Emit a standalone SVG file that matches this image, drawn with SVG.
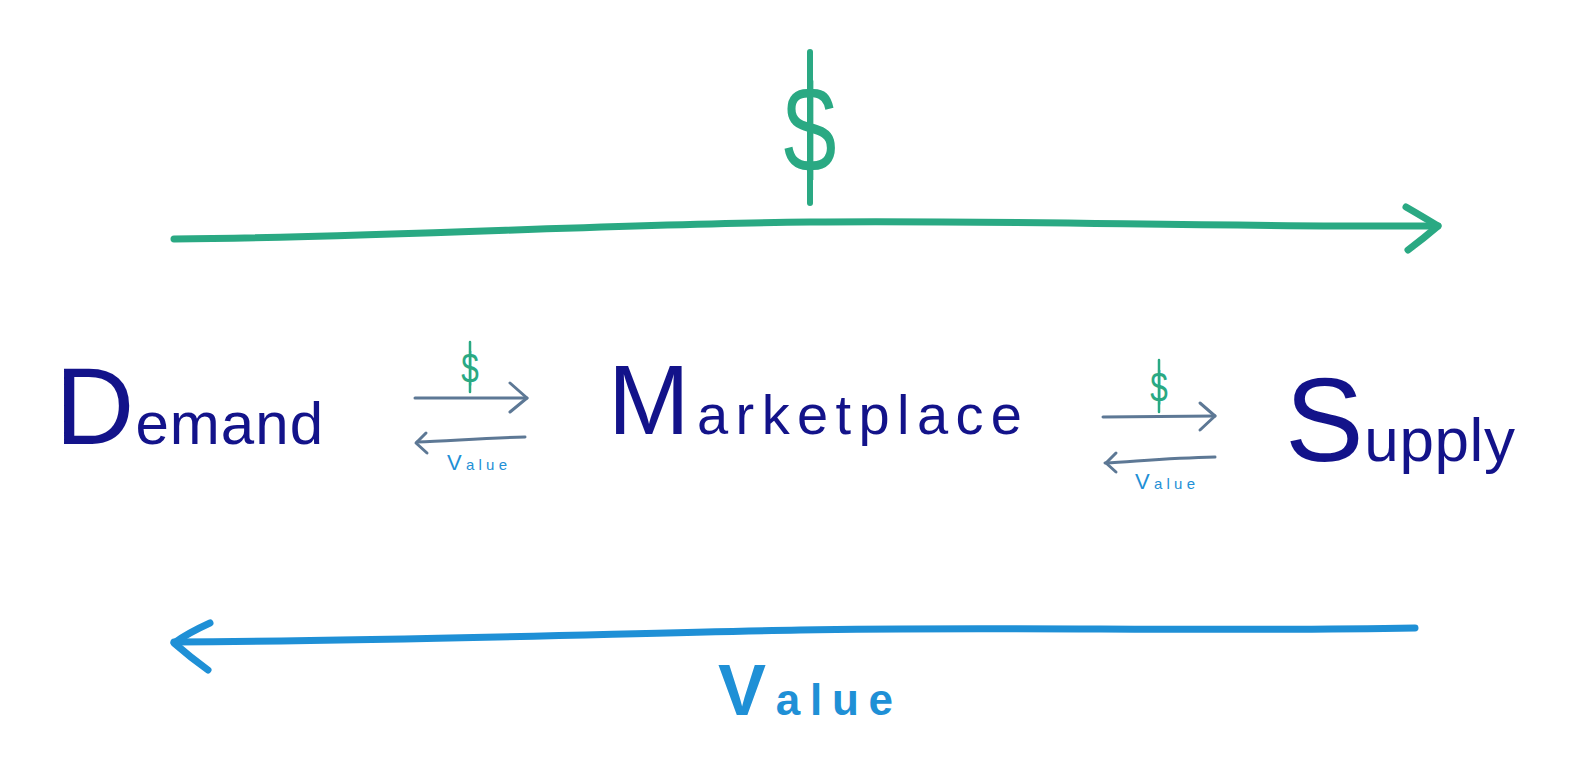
<svg xmlns="http://www.w3.org/2000/svg" width="1585" height="769" viewBox="0 0 1585 769">
<style>
.node{font-family:"Liberation Sans",Arial,sans-serif;fill:#13138a}
.green{stroke:#2aa983;fill:none;stroke-linecap:round;stroke-linejoin:round}
.blue{stroke:#1f90d6;fill:none;stroke-linecap:round;stroke-linejoin:round}
.small{stroke:#5d7895;fill:none;stroke-width:3;stroke-linecap:round;stroke-linejoin:round}
.gt{font-family:"Liberation Sans",Arial,sans-serif;fill:#2aa983}
.bt{font-family:"Liberation Sans",Arial,sans-serif;fill:#1f90d6}
</style>
<rect width="1585" height="769" fill="#ffffff"/>
<g id="connectors">
  <g id="money-flow">
    <path class="green" stroke-width="7" d="M174,239 C400,237 600,224 810,222 S1200,227 1438,226"/>
    <path class="green" stroke-width="7" d="M1406,207 Q1425,218 1438,226 Q1424,238 1408,250"/>
  </g>
  <g id="value-flow">
    <path class="blue" stroke-width="7" d="M1415,628 C1200,632 1000,626 800,630 S400,641 174,642"/>
    <path class="blue" stroke-width="7" d="M210,623 Q188,633 174,643 Q190,657 208,670"/>
  </g>
  <g id="demand-market">
    <path class="small" d="M415,398 L527,398"/>
    <path class="small" d="M510,383 L527,398 L510,412"/>
    <path class="small" d="M525,437 C480,438 450,441 417,442"/>
    <path class="small" d="M426,433 L416,443 L427,453"/>
  </g>
  <g id="market-supply">
    <path class="small" d="M1103,417 L1215,416"/>
    <path class="small" d="M1200,403 L1215,416 L1200,430"/>
    <path class="small" d="M1215,457 C1170,458 1140,461 1105,463"/>
    <path class="small" d="M1116,453 L1106,463 L1116,472"/>
  </g>
</g>
<g id="label-money-top">
  <line class="green" stroke-width="6" x1="810" y1="52" x2="810" y2="203"/>
  <text class="gt" font-size="122" text-anchor="middle" transform="translate(810,172) scale(0.78,1)">$</text>
</g>
<g id="label-money-left">
  <line class="green" stroke-width="2.5" x1="470" y1="342" x2="470" y2="392"/>
  <text class="gt" font-size="42" text-anchor="middle" transform="translate(470,383) scale(0.75,1)">$</text>
</g>
<g id="label-money-right">
  <line class="green" stroke-width="2.5" x1="1159" y1="360" x2="1159" y2="412"/>
  <text class="gt" font-size="42" text-anchor="middle" transform="translate(1159,402) scale(0.75,1)">$</text>
</g>
<g id="label-value-left">
  <text class="bt" x="447" y="470" textLength="60"><tspan font-size="22">V</tspan><tspan font-size="15">alue</tspan></text>
</g>
<g id="label-value-right">
  <text class="bt" x="1135" y="489" textLength="60"><tspan font-size="22">V</tspan><tspan font-size="15">alue</tspan></text>
</g>
<g id="label-value-bottom">
  <text class="bt" font-weight="bold" x="718" y="715" textLength="175"><tspan font-size="72">V</tspan><tspan font-size="44">alue</tspan></text>
</g>
<g id="demand">
  <text class="node" x="55" y="444" textLength="268"><tspan font-size="110">D</tspan><tspan font-size="60">emand</tspan></text>
</g>
<g id="marketplace">
  <text class="node" x="608" y="434" textLength="414"><tspan font-size="98">M</tspan><tspan font-size="56">arketplace</tspan></text>
</g>
<g id="supply">
  <text class="node" x="1285" y="461" textLength="230"><tspan font-size="118">S</tspan><tspan font-size="62">upply</tspan></text>
</g>
</svg>
